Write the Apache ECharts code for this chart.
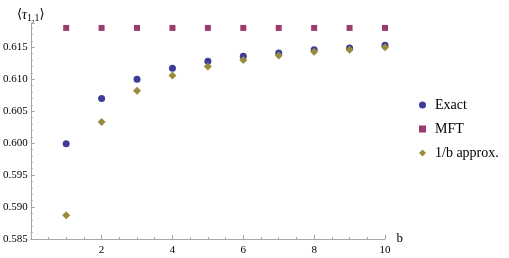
<!DOCTYPE html>
<html>
<head>
<meta charset="utf-8">
<script src="https://cdn.jsdelivr.net/npm/echarts@6/dist/echarts.min.js"></script>
<style>html,body{margin:0;padding:0;background:#fff}#c{width:509px;height:258px}</style>
</head>
<body>
<div id="c"></div>
<script>
const bValues = [1, 2, 3, 4, 5, 6, 7, 8, 9, 10];
const exactValues = [0.5999, 0.6070, 0.6100, 0.6117, 0.6128, 0.6136, 0.6141, 0.6146, 0.6149, 0.6153];
const mftValues = [0.61803, 0.61803, 0.61803, 0.61803, 0.61803, 0.61803, 0.61803, 0.61803, 0.61803, 0.61803];
const approxValues = [0.5887, 0.6033, 0.6082, 0.6106, 0.6120, 0.6130, 0.6137, 0.6143, 0.6146, 0.6150];
const seriesNames = ['Exact', 'MFT', '1/b approx.'];

const colors = ['#3d3d99', '#993d71', '#998b3d'];
const serif = 'Liberation Serif';
const axisGray = '#a6a6a6';

function pairs(vals) { return bValues.map((b, i) => [b, vals[i]]); }

const chart = echarts.init(document.getElementById('c'), null, {renderer: 'canvas'});
chart.setOption({
  animation: false,
  color: colors,
  textStyle: {fontFamily: serif},
  grid: {left: 28, right: 124, top: 23, bottom: 19, containLabel: false},
  title: {
    text: '{a|⟨}{t|τ}{s|1,1}{a|⟩}',
    left: 12, top: 2,
    textStyle: {
      fontWeight: 'normal',
      rich: {
        a: {fontFamily: 'DejaVu Serif', fontSize: 13, fontWeight: 'normal', color: '#000'},
        t: {fontFamily: serif, fontSize: 14, fontStyle: 'italic', fontWeight: 'normal', color: '#000'},
        s: {fontFamily: serif, fontSize: 10, fontWeight: 'normal', color: '#000', verticalAlign: 'bottom', padding: [6, 0, 0, 0]}
      }
    }
  },
  legend: {
    orient: 'vertical',
    left: 414, top: 93,
    itemWidth: 7, itemHeight: 7,
    itemGap: 10,
    data: [
      {name: seriesNames[0], icon: 'circle'},
      {name: seriesNames[1], icon: 'rect'},
      {name: seriesNames[2], icon: 'diamond'}
    ],
    textStyle: {fontFamily: serif, fontSize: 14, color: '#000', lineHeight: 14, padding: [0, 0, 0, 4]}
  },
  xAxis: {
    type: 'value', min: 0, max: 10, interval: 2,
    name: 'b', nameLocation: 'end', nameGap: 8,
    nameTextStyle: {fontFamily: serif, fontSize: 13, color: '#000', verticalAlign: 'middle', padding: [0, 0, 4, 0]},
    axisLine: {show: true, onZero: false, lineStyle: {color: axisGray, width: 1}},
    axisTick: {show: true, inside: true, length: 4, lineStyle: {color: axisGray}},
    minorTick: {show: true, splitNumber: 4, length: 2, lineStyle: {color: axisGray}},
    splitLine: {show: false},
    axisLabel: {showMinLabel: false, fontFamily: serif, fontSize: 11, color: '#000', margin: 6}
  },
  yAxis: {
    type: 'value', min: 0.585, max: 0.6188, interval: 0.005,
    axisLine: {show: true, onZero: false, lineStyle: {color: axisGray, width: 1}},
    axisTick: {show: true, inside: true, length: 4, lineStyle: {color: axisGray}},
    minorTick: {show: true, splitNumber: 5, length: 2, lineStyle: {color: axisGray}},
    splitLine: {show: false},
    axisLabel: {
      showMaxLabel: false, fontFamily: serif, fontSize: 11, color: '#000', margin: 3,
      formatter: v => v.toFixed(3)
    }
  },
  series: [
    {name: seriesNames[0], type: 'scatter', symbol: 'circle', symbolSize: 7, itemStyle: {opacity: 1}, data: pairs(exactValues)},
    {name: seriesNames[1], type: 'scatter', symbol: 'rect', symbolSize: 6, itemStyle: {opacity: 1}, data: pairs(mftValues)},
    {name: seriesNames[2], type: 'scatter', symbol: 'diamond', symbolSize: 8, itemStyle: {opacity: 1}, data: pairs(approxValues)}
  ]
});
</script>
</body>
</html>
